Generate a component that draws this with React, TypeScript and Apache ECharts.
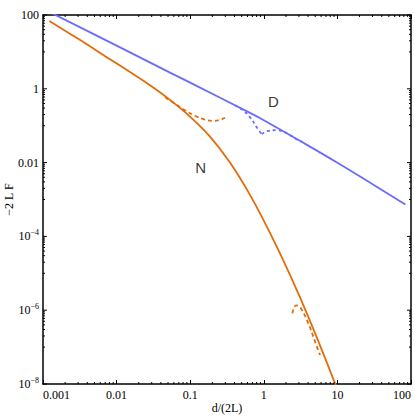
import React, { useEffect, useRef } from "react";
import * as echarts from "echarts";

// N curve (orange), solid
const nSolidX = [0.00122, 0.00316, 0.00734, 0.0152, 0.0284, 0.0531, 0.0994, 0.186, 0.347, 0.649, 1.214, 2.27, 4.244, 9.57];
const nSolidY = [69.2, 21.2, 7.2, 2.84, 1.248, 0.502, 0.176, 0.0507, 0.01, 0.00133, 1.24e-4, 9.06e-6, 5.14e-7, 8.9e-9];
// N small-d approximation (orange dashed)
const nSmallX = [0.0455, 0.0621, 0.0849, 0.116, 0.159, 0.204, 0.254, 0.297];
const nSmallY = [0.59, 0.394, 0.262, 0.186, 0.147, 0.135, 0.1435, 0.1644];
// N large-d approximation (orange dashed)
const nLargeX = [2.44, 2.74, 3.10, 4.03, 4.97, 5.81];
const nLargeY = [8.2e-7, 1.35e-6, 1.22e-6, 4.4e-7, 1.4e-7, 6.1e-8];
// D curve (blue), solid
const dSolidX = [0.001, 0.01, 0.0532, 0.1, 0.649, 1, 3.10, 10, 31.6, 83.8];
const dSolidY = [148, 14.8, 2.75, 1.47, 0.222, 0.141, 0.0389, 0.00993, 0.00244, 7.35e-4];
// D small-d approximation (blue dashed)
const dSmallX = [0.406, 0.521, 0.649, 0.801, 0.936];
const dSmallY = [0.359, 0.262, 0.170, 0.0912, 0.0589];
// D large-d approximation (blue dashed)
const dLargeX = [0.936, 1.095, 1.496, 2.05, 2.8, 3.3];
const dLargeY = [0.0589, 0.071, 0.0755, 0.0625, 0.043, 0.036];
// curve name annotations
const annoText = ["D", "N"];
const annoX = [1.346, 0.139];
const annoY = [0.44, 0.00738];
// y tick labels, keyed by decade exponent
const yTickExp = [2, 0, -2, -4, -6, -8];
const yTickText = ["100", "1", "0.01", "10{sup|\u22124}", "10{sup|\u22126}", "10{sup|\u22128}"];
// x tick labels, keyed by decade exponent
const xTickExp = [-3, -2, -1, 0, 1, 2];
const xTickText = ["0.001", "0.01", "0.1", "1", "10", "100"];

const X_MIN = 0.001;
const X_MAX = 100;
const Y_MIN = 1e-8;
const Y_MAX = 100;

const ORANGE = "#e36c0a";
const BLUE = "#6b6bff";
const SERIF = "'Liberation Serif', 'Times New Roman', serif";
const SANS = "'Liberation Sans', Arial, sans-serif";

// minor tick positions of the logarithmic frame
const xMinor: number[] = [];
for (let k = -3; k <= 1; k++) for (let m = 2; m <= 9; m++) xMinor.push(m * Math.pow(10, k));
const yMinor: number[] = [];
for (const k of [1, -1, -3, -5, -7]) for (let m = 1; m <= 9; m++) yMinor.push(m * Math.pow(10, k));
const yMajor = yTickExp.map((e) => Math.pow(10, e));

const zip = (a: number[], b: number[]) => a.map((v, i) => [v, b[i]]);

function yLabel(value: number): string {
  const i = yTickExp.indexOf(Math.round(value));
  return i >= 0 ? yTickText[i] : "";
}

function xLabel(value: number): string {
  const i = xTickExp.indexOf(Math.round(Math.log10(value)));
  return i >= 0 ? xTickText[i] : "";
}

export default function App() {
  const ref = useRef<HTMLDivElement>(null);
  useEffect(() => {
    if (!ref.current) return;
    const chart = echarts.init(ref.current, undefined, { renderer: "svg" });
    const lineStyleBase = { width: 1.8 };
    const frameLine = { show: true, onZero: false, lineStyle: { color: "#000", width: 1.5 } };
    const tickLine = (x1: number, y1: number, x2: number, y2: number) => ({
      type: "line",
      shape: { x1, y1, x2, y2 },
      style: { stroke: "#000", lineWidth: 1 },
    });
    chart.setOption({
      animation: false,
      grid: { left: 43, right: 4, top: 15, bottom: 32, containLabel: false, outerBoundsMode: "none" },
      xAxis: [
        {
          type: "log",
          min: X_MIN,
          max: X_MAX,
          logBase: 10,
          position: "bottom",
          axisLine: frameLine,
          axisTick: { show: true, inside: true, length: 4, lineStyle: { color: "#000" } },
          splitLine: { show: false },
          axisLabel: {
            formatter: xLabel,
            fontFamily: SERIF,
            fontSize: 12,
            color: "#000",
            margin: 5,
            alignMinLabel: "left",
            alignMaxLabel: "right",
            hideOverlap: false,
          },
          name: "d/(2L)",
          nameLocation: "middle",
          nameGap: 18,
          nameMoveOverlap: false,
          nameTextStyle: { fontFamily: SERIF, fontSize: 12, color: "#000" },
        },
        {
          type: "log",
          min: X_MIN,
          max: X_MAX,
          position: "top",
          axisLine: frameLine,
          axisTick: { show: true, inside: true, length: 4, lineStyle: { color: "#000" } },
          axisLabel: { show: false },
          splitLine: { show: false },
        },
      ],
      yAxis: [
        {
          type: "log",
          min: Y_MIN,
          max: Y_MAX,
          logBase: 10,
          position: "left",
          axisLine: frameLine,
          axisTick: { show: false },
          splitLine: { show: false },
          axisLabel: { show: false },
        },
        {
          type: "log",
          min: Y_MIN,
          max: Y_MAX,
          position: "right",
          axisLine: frameLine,
          axisTick: { show: false },
          axisLabel: { show: false },
          splitLine: { show: false },
        },
        {
          // decade-exponent axis carrying the tick labels of the log axis
          type: "value",
          min: -8,
          max: 2,
          interval: 2,
          position: "left",
          offset: 0,
          axisLine: { show: false, onZero: false },
          axisTick: { show: false },
          splitLine: { show: false },
          axisLabel: {
            formatter: yLabel,
            fontFamily: SERIF,
            fontSize: 12,
            color: "#000",
            margin: 4,
            hideOverlap: false,
            rich: {
              sup: { fontFamily: SERIF, fontSize: 8, color: "#000", padding: [0, 0, 7, 0] },
            },
          },
          name: "\u22122 L F",
          nameLocation: "middle",
          nameRotate: 90,
          nameGap: 28,
          nameMoveOverlap: false,
          nameTextStyle: { fontFamily: SERIF, fontSize: 12, color: "#000" },
        },
      ],
      series: [
        {
          type: "line",
          data: zip(nSolidX, nSolidY),
          showSymbol: false,
          smooth: 0.4,
          lineStyle: { ...lineStyleBase, color: ORANGE },
          itemStyle: { color: ORANGE },
          z: 3,
        },
        {
          type: "line",
          data: zip(nSmallX, nSmallY),
          showSymbol: false,
          smooth: 0.4,
          lineStyle: { ...lineStyleBase, color: ORANGE, type: [4, 3] },
          z: 3,
        },
        {
          type: "line",
          data: zip(nLargeX, nLargeY),
          showSymbol: false,
          smooth: 0.4,
          lineStyle: { ...lineStyleBase, color: ORANGE, type: [4, 3] },
          z: 3,
        },
        {
          type: "line",
          data: zip(dSolidX, dSolidY),
          showSymbol: false,
          smooth: 0.4,
          lineStyle: { ...lineStyleBase, color: BLUE },
          z: 3,
        },
        {
          type: "line",
          data: zip(dSmallX, dSmallY),
          showSymbol: false,
          smooth: 0.4,
          lineStyle: { ...lineStyleBase, color: BLUE, type: [3, 3] },
          z: 3,
        },
        {
          type: "line",
          data: zip(dLargeX, dLargeY),
          showSymbol: false,
          smooth: 0.4,
          lineStyle: { ...lineStyleBase, color: BLUE, type: [3, 3] },
          z: 3,
        },
        {
          type: "scatter",
          data: annoX.map((x, i) => ({ value: [x, annoY[i]], name: annoText[i] })),
          symbolSize: 1,
          itemStyle: { color: "rgba(0,0,0,0)" },
          label: {
            show: true,
            position: "inside",
            formatter: (p: any) => p.name,
            fontFamily: SANS,
            fontSize: 15,
            color: (p: any) => (p.name === "D" ? BLUE : ORANGE),
          },
          z: 4,
        },
        {
          type: "custom",
          data: xMinor.map((v) => [v, Y_MIN]),
          renderItem: (_params: any, api: any) => {
            const b = api.coord([api.value(0), Y_MIN]);
            const t = api.coord([api.value(0), Y_MAX]);
            return {
              type: "group",
              children: [tickLine(b[0], b[1], b[0], b[1] - 2), tickLine(t[0], t[1], t[0], t[1] + 2)],
            };
          },
          z: 5,
        },
        {
          type: "custom",
          data: yMinor.map((v) => [X_MIN, v]),
          renderItem: (_params: any, api: any) => {
            const l = api.coord([X_MIN, api.value(1)]);
            const r = api.coord([X_MAX, api.value(1)]);
            return {
              type: "group",
              children: [tickLine(l[0], l[1], l[0] + 2, l[1]), tickLine(r[0], r[1], r[0] - 2, r[1])],
            };
          },
          z: 5,
        },
        {
          type: "custom",
          data: yMajor.map((v) => [X_MIN, v]),
          renderItem: (_params: any, api: any) => {
            const l = api.coord([X_MIN, api.value(1)]);
            const r = api.coord([X_MAX, api.value(1)]);
            return {
              type: "group",
              children: [tickLine(l[0], l[1], l[0] + 4, l[1]), tickLine(r[0], r[1], r[0] - 4, r[1])],
            };
          },
          z: 5,
        },
      ],
    });
    return () => chart.dispose();
  }, []);
  return <div ref={ref} style={{ width: 415, height: 416, position: "absolute", left: 0, top: 0 }} />;
}
